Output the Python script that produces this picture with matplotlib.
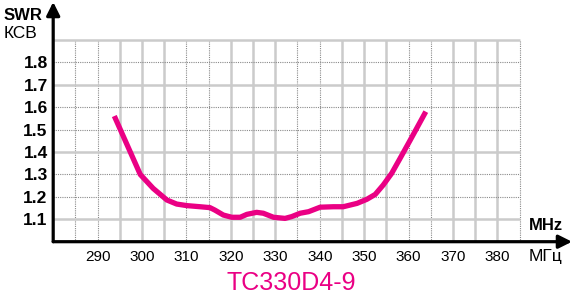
import matplotlib
matplotlib.use('Agg')
import matplotlib.pyplot as plt

# SWR curve
freq = [294, 299.6, 302.5, 305.6, 307.8, 310.1, 313.1, 315.3, 316.4, 318.3,
        320.2, 322.1, 323.6, 325.8, 327.3, 329.6, 332.2, 333.7, 335.6, 337.5,
        340.1, 343.1, 345.3, 348.4, 350.6, 352.5, 354.3, 356.2, 358.1, 360.4,
        363.6]
swr = [1.55, 1.30, 1.238, 1.186, 1.168, 1.161, 1.156, 1.152, 1.141, 1.119,
       1.109, 1.109, 1.122, 1.131, 1.127, 1.109, 1.104, 1.112, 1.127, 1.134,
       1.154, 1.156, 1.156, 1.171, 1.189, 1.211, 1.253, 1.305, 1.372, 1.454,
       1.570]

x_ticks = [290, 300, 310, 320, 330, 340, 350, 360, 370, 380]
y_ticks = [1.1, 1.2, 1.3, 1.4, 1.5, 1.6, 1.7, 1.8]
x_grid = [285 + 5 * i for i in range(21)]
y_grid = [1.1 + 0.1 * i for i in range(9)]
# which grid lines are solid (the rest are dotted)
x_solid = [False, False, True, True, True] * 4 + [False]
y_solid = [True, False, False, True, False, False, True, False, True]

title = 'TC330D4-9'
pink = '#ea0084'

plt.rcParams['font.family'] = ['Liberation Sans', 'DejaVu Sans']

fig = plt.figure(figsize=(5.79, 3.05), dpi=100)
ax = fig.add_axes([53.2 / 579, (305 - 241.7) / 305, (572 - 53.2) / 579, (241.7 - 2) / 305])
ax.set_xlim(280, 396.8)
ax.set_ylim(1.0, 1.0 + (241.7 - 2) / 224.1)
for s in ax.spines.values():
    s.set_visible(False)

# grid, drawn by hand because of mixed styles
for x, solid in zip(x_grid, x_solid):
    if solid:
        ax.vlines(x, 1.0, 1.9, color='#cbcbcb', lw=1.8, zorder=1)
    else:
        ax.vlines(x, 1.0, 1.9, color='#8a8a8a', lw=0.8, linestyles=(0, (1, 1)), zorder=1)
for y, solid in zip(y_grid, y_solid):
    if solid:
        ax.hlines(y, 280, 385, color='#cbcbcb', lw=1.8, zorder=1)
    else:
        ax.hlines(y, 280, 385, color='#8a8a8a', lw=0.8, linestyles=(0, (1, 1)), zorder=1)

ax.plot(freq, swr, color=pink, lw=3.8, solid_joinstyle='round', zorder=3)

# axes with arrows
head = '-|>,head_length=0.8,head_width=0.4'
ax.annotate('', xy=(396.8, 1.0), xytext=(280, 1.0),
            arrowprops=dict(arrowstyle=head, lw=2.3, color='black', shrinkA=0, shrinkB=0), zorder=4)
ax.annotate('', xy=(280, ax.get_ylim()[1]), xytext=(280, 1.0),
            arrowprops=dict(arrowstyle=head, lw=2.3, color='black', shrinkA=0, shrinkB=0), zorder=4)

ax.set_xticks(x_ticks)
ax.set_xticklabels([str(v) for v in x_ticks], fontsize=11)
ax.set_yticks(y_ticks)
ax.set_yticklabels(['%.1f' % v for v in y_ticks], fontsize=12.5, fontweight='bold')
ax.tick_params(axis='both', length=0)
ax.tick_params(axis='x', pad=6)
ax.tick_params(axis='y', pad=4)

fig.text(4 / 579, 1 - 16 / 305, 'SWR', fontsize=12, fontweight='bold', va='center', ha='left')
fig.text(4 / 579, 1 - 34 / 305, 'КСВ', fontsize=12.5, va='center', ha='left')
fig.text(529 / 579, 1 - 226 / 305, 'MHz', fontsize=12, fontweight='bold', va='center', ha='left')
fig.text(529 / 579, 1 - 257 / 305, 'МГц', fontsize=12.5, va='center', ha='left')
fig.text(291 / 579, 1 - 283 / 305, title, fontsize=18, color=pink, va='center', ha='center')

fig.savefig('out.png', dpi=100)
